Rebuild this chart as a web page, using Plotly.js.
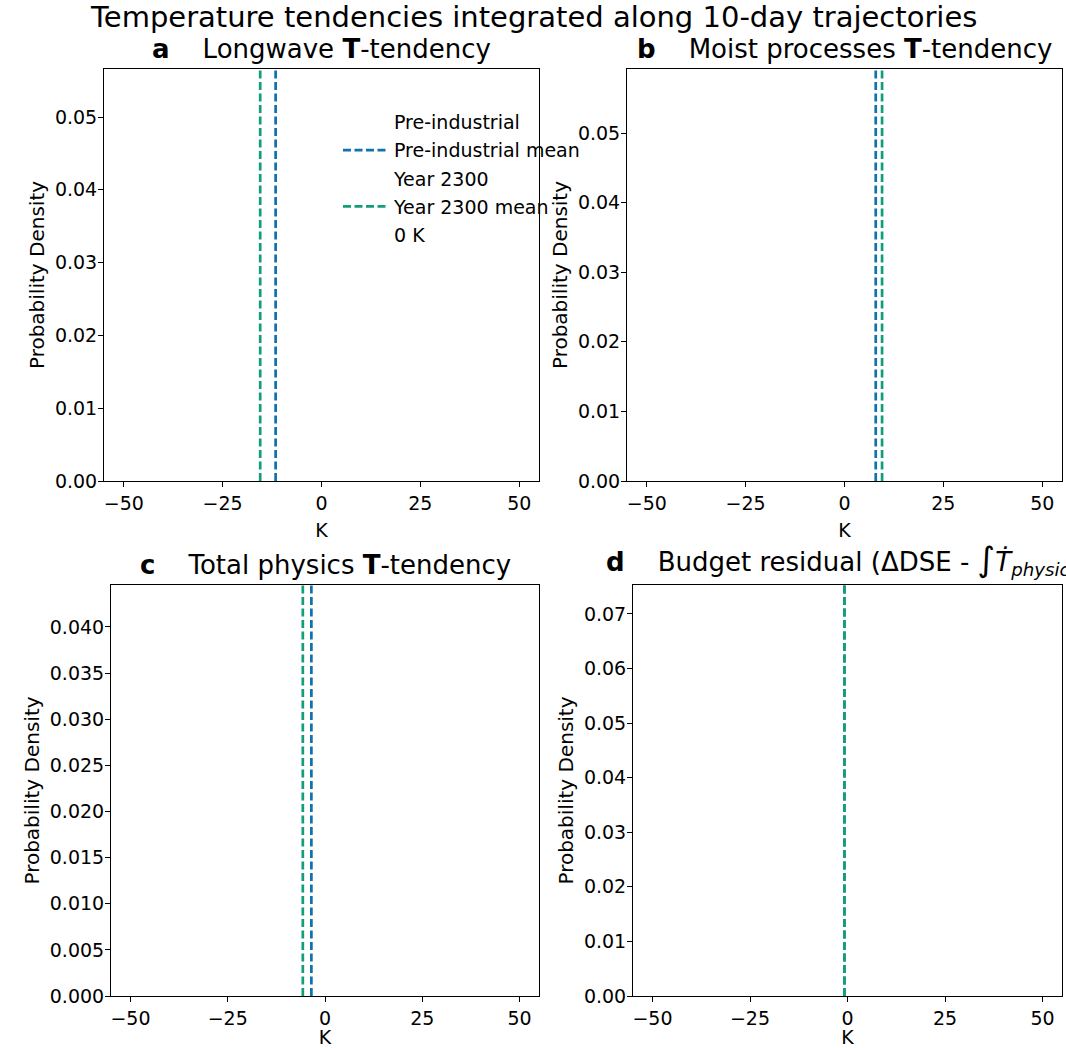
<!DOCTYPE html>
<html>
<head>
<meta charset="utf-8">
<script src="https://cdn.plot.ly/plotly-3.0.1.min.js"></script>
<style>html,body{margin:0;padding:0;background:#fff;}</style>
</head>
<body>
<div id="chart" style="width:1066px;height:1048px;"></div>
<script>
// ---- data ----
const panelLetters = ['a', 'b', 'c', 'd'];
const panelTitles = [
  'Longwave <b>T</b>-tendency',
  'Moist processes <b>T</b>-tendency',
  'Total physics <b>T</b>-tendency',
  'Budget residual (\u0394DSE - <span style="font-size:34px">\u222B</span><i>\u1E6A</i><sub><i>physics</i></sub>)'
];
const preIndustrialMean = [-11.6, 7.9, -3.5, -0.8];   // K
const year2300Mean      = [-15.5, 9.5, -5.7, -0.8];   // K
const densityTop        = [0.0566, 0.0592, 0.04455, 0.0753];
const xTickVals = [-50, -25, 0, 25, 50];
const yTickStep = [0.01, 0.01, 0.005, 0.01];
const yTickFormat = ['.2f', '.2f', '.3f', '.2f'];
const legendNames = ['Pre-industrial', 'Pre-industrial mean', 'Year 2300', 'Year 2300 mean', '0 K'];

const BLUE = '#0d72ad';
const GREEN = '#139e7a';
const FONT = 'DejaVu Sans, Liberation Sans, sans-serif';

const W = 1066, H = 1048;
const boxes = [ // pixel frames [left, right, top, bottom]
  [104, 539, 69, 481],
  [627, 1062, 69, 481],
  [111, 539, 585, 996],
  [633, 1062, 585, 996]
];

const traces = [];
const layout = {
  width: W, height: H,
  margin: {l: 0, r: 0, t: 0, b: 0},
  paper_bgcolor: '#fff', plot_bgcolor: '#fff',
  font: {family: FONT, size: 19, color: '#000'},
  showlegend: true,
  legend: {
    x: 338 / W, y: 1 - 103 / H, xanchor: 'left', yanchor: 'top',
    bgcolor: 'rgba(0,0,0,0)', borderwidth: 0,
    font: {family: FONT, size: 19, color: '#000'},
    traceorder: 'grouped', tracegroupgap: 0.5, itemwidth: 46
  },
  annotations: [{
    text: 'Temperature tendencies integrated along 10-day trajectories',
    xref: 'paper', yref: 'paper', x: 0.5, y: 1 - 17 / H,
    xanchor: 'center', yanchor: 'middle', showarrow: false,
    font: {family: FONT, size: 29, color: '#000'}
  }],
  shapes: []
};

panelLetters.forEach((p, i) => {
  const n = i === 0 ? '' : String(i + 1);
  const [l, r, t, b] = boxes[i];
  const xa = 'xaxis' + n, ya = 'yaxis' + n;
  layout[xa] = {
    domain: [l / W, r / W], anchor: 'y' + n,
    range: [-55, 55], tickvals: xTickVals, ticktext: xTickVals.map(v => v < 0 ? '\u2212' + Math.abs(v) : String(v)),
    showgrid: false, zeroline: false, showline: true, mirror: true,
    linecolor: '#000', linewidth: 1, ticks: 'outside', ticklen: 5, tickcolor: '#000',
    tickfont: {family: FONT, size: 19}, automargin: false,
    title: {text: 'K', font: {family: FONT, size: 19}, standoff: 10}
  };
  layout[ya] = {
    domain: [1 - b / H, 1 - t / H], anchor: 'x' + n,
    range: [0, densityTop[i]], dtick: yTickStep[i], tick0: 0, tickformat: yTickFormat[i],
    showgrid: false, zeroline: false, showline: true, mirror: true,
    linecolor: '#000', linewidth: 1, ticks: 'outside', ticklen: 5, tickcolor: '#000',
    tickfont: {family: FONT, size: 19}, automargin: false, ticklabelstandoff: -3,
    title: {text: 'Probability Density', font: {family: FONT, size: 20}, standoff: 4}
  };
  layout.annotations.push({
    text: '<b>' + p + '</b>\u00A0\u00A0\u00A0\u00A0' + panelTitles[i],
    xref: 'paper', yref: 'paper', x: ((l + r) / 2) / W, y: 1 - (t - 3) / H,
    xanchor: 'center', yanchor: 'bottom', showarrow: false,
    font: {family: FONT, size: 26, color: '#000'}
  });

  const first = i === 0;
  const xr = 'x' + n, yr = 'y' + n;
  traces.push({
    type: 'scatter', mode: 'lines', x: [null], y: [null], xaxis: xr, yaxis: yr,
    name: legendNames[0], legendgroup: 'g0', showlegend: first,
    line: {color: 'rgba(0,0,0,0)', width: 2}
  });
  traces.push({
    type: 'scatter', mode: 'lines', x: [preIndustrialMean[i], preIndustrialMean[i]], y: [0, densityTop[i]],
    xaxis: xr, yaxis: yr, name: legendNames[1], legendgroup: 'g1', showlegend: first,
    line: {color: BLUE, width: 2.7, dash: '8px,3.5px'}, hoverinfo: 'skip'
  });
  traces.push({
    type: 'scatter', mode: 'lines', x: [null], y: [null], xaxis: xr, yaxis: yr,
    name: legendNames[2], legendgroup: 'g2', showlegend: first,
    line: {color: 'rgba(0,0,0,0)', width: 2}
  });
  traces.push({
    type: 'scatter', mode: 'lines', x: [year2300Mean[i], year2300Mean[i]], y: [0, densityTop[i]],
    xaxis: xr, yaxis: yr, name: legendNames[3], legendgroup: 'g3', showlegend: first,
    line: {color: GREEN, width: 2.7, dash: '8px,3.5px'}, hoverinfo: 'skip'
  });
  traces.push({
    type: 'scatter', mode: 'lines', x: [null], y: [null], xaxis: xr, yaxis: yr,
    name: legendNames[4], legendgroup: 'g4', showlegend: first,
    line: {color: 'rgba(0,0,0,0)', width: 2}
  });
});

Plotly.newPlot('chart', traces, layout, {staticPlot: true});
</script>
</body>
</html>
